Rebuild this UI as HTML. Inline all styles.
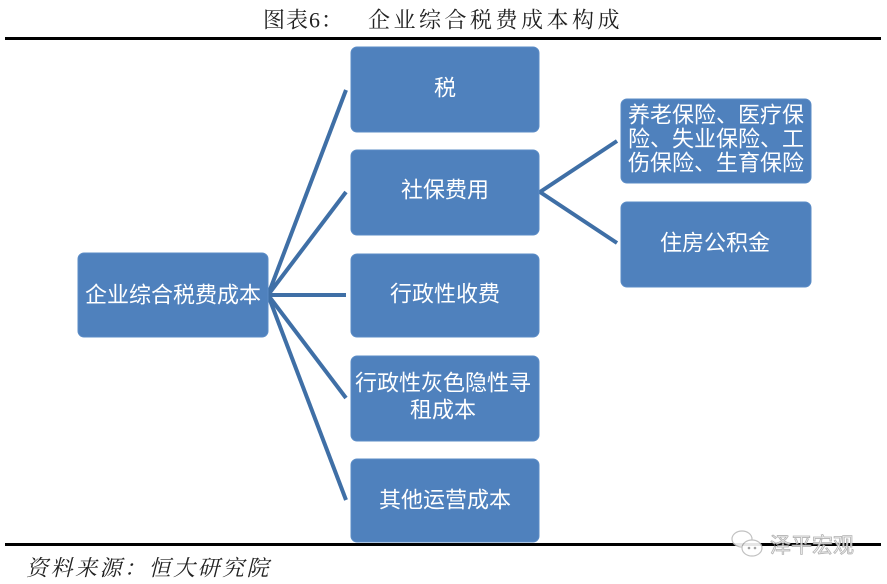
<!DOCTYPE html>
<html><head><meta charset="utf-8"><style>
html,body{margin:0;padding:0;background:#fff;width:887px;height:584px;overflow:hidden}
svg{display:block}
.bx{fill:#4f81bd;stroke:#5b8cc6;stroke-width:1}
.t{fill:#fff;font-family:"Liberation Sans","Noto Sans CJK SC",sans-serif;font-size:22px;text-anchor:middle;dominant-baseline:central}
.ln{stroke:#3f6fa6;stroke-width:4;fill:none;stroke-linecap:butt}
</style></head><body>
<svg width="887" height="584" viewBox="0 0 887 584" xmlns="http://www.w3.org/2000/svg">
<text x="263" y="20" font-family="'Liberation Serif','Noto Serif CJK SC',serif" font-size="22" dominant-baseline="central" fill="#222" letter-spacing="1">图表6：</text>
<text x="368" y="20" font-family="'Liberation Serif','Noto Serif CJK SC',serif" font-size="22" dominant-baseline="central" fill="#222" letter-spacing="3.5">企业综合税费成本构成</text>
<rect x="5" y="37" width="876" height="3" fill="#000"/>

<!-- connectors -->
<g class="ln">
<line x1="268" y1="295" x2="346" y2="90"/>
<line x1="268" y1="295" x2="346" y2="192"/>
<line x1="268" y1="295" x2="346" y2="295"/>
<line x1="268" y1="295" x2="346" y2="398"/>
<line x1="268" y1="295" x2="346" y2="500"/>
<polyline points="617,141 540,192 617,243"/>
</g>

<rect class="bx" x="78" y="253" width="190" height="84" rx="6"/>
<text class="t" x="173" y="295">企业综合税费成本</text>

<rect class="bx" x="351" y="47" width="188" height="85" rx="6"/>
<text class="t" x="445" y="88">税</text>
<rect class="bx" x="351" y="150" width="188" height="85" rx="6"/>
<text class="t" x="445" y="190">社保费用</text>
<rect class="bx" x="351" y="254" width="188" height="83" rx="6"/>
<text class="t" x="445" y="294">行政性收费</text>
<rect class="bx" x="351" y="356" width="188" height="85" rx="6"/>
<text class="t" x="443" y="383">行政性灰色隐性寻</text>
<text class="t" x="443" y="410">租成本</text>
<rect class="bx" x="351" y="459" width="188" height="83" rx="6"/>
<text class="t" x="445" y="500">其他运营成本</text>

<rect class="bx" x="621" y="99" width="190" height="84" rx="6"/>
<text class="t" x="716" y="115">养老保险、医疗保</text>
<text class="t" x="716" y="139">险、失业保险、工</text>
<text class="t" x="716" y="163">伤保险、生育保险</text>
<rect class="bx" x="621" y="202" width="190" height="85" rx="6"/>
<text class="t" x="715" y="243">住房公积金</text>

<rect x="5" y="543" width="876" height="3" fill="#000"/>
<text x="26" y="568" font-family="'Liberation Serif','Noto Serif CJK SC',serif" font-size="22" font-style="italic" dominant-baseline="central" fill="#222" letter-spacing="2.5" transform="skewX(0)">资料来源：恒大研究院</text>

<!-- watermark -->
<g opacity="0.9">
<ellipse cx="742" cy="539" rx="10" ry="8" fill="#fff" stroke="#bbb" stroke-width="1.2"/>
<ellipse cx="752" cy="548" rx="10" ry="8" fill="#fff" stroke="#bbb" stroke-width="1.2"/>
<circle cx="749" cy="548" r="1.3" fill="#999"/>
<circle cx="755" cy="548" r="1.3" fill="#999"/>
<text x="770" y="546" font-family="'Liberation Sans','Noto Sans CJK SC',sans-serif" font-size="21" dominant-baseline="central" fill="#f4f4f4" stroke="#aaa" stroke-width="0.8">泽平宏观</text>
</g>
</svg>
</body></html>
